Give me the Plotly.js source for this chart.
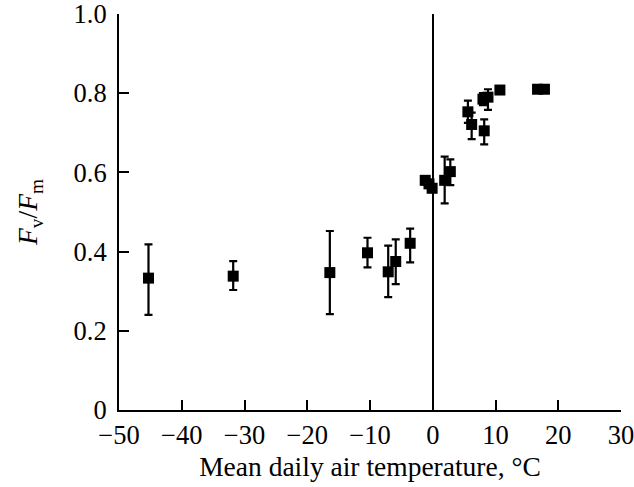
<!DOCTYPE html>
<html>
<head>
<meta charset="utf-8">
<script src="https://cdn.plot.ly/plotly-3.0.1.min.js"></script>
<style>html,body{margin:0;padding:0;background:#fff;}#chart{width:634px;height:487px;}</style>
</head>
<body>
<div id="chart"></div>
<script>
// Mean daily air temperature, °C
var temperature = [-45.3, -31.8, -16.4, -10.4, -7.1, -5.9, -3.6, -1.2, -0.6, -0.1, 1.9, 2.8, 5.6, 6.2, 8.2, 8.0, 8.8, 10.7, 16.7, 17.8];
// Fv/Fm
var fvfm = [0.333, 0.338, 0.347, 0.397, 0.349, 0.375, 0.421, 0.580, 0.571, 0.560, 0.580, 0.602, 0.753, 0.721, 0.705, 0.785, 0.790, 0.808, 0.810, 0.810];
var errUp = [0.085, 0.038, 0.105, 0.038, 0.066, 0.056, 0.037, 0.010, 0.010, 0.010, 0.060, 0.031, 0.028, 0.030, 0.029, 0.015, 0.020, 0, 0, 0];
var errDown = [0.093, 0.035, 0.105, 0.037, 0.064, 0.057, 0.048, 0.010, 0.010, 0.010, 0.058, 0.034, 0.028, 0.037, 0.034, 0.015, 0.032, 0, 0, 0];
var xTicks = [-50, -40, -30, -20, -10, 0, 10, 20, 30];
var yTickVals = [0, 0.2, 0.4, 0.6, 0.8, 1.0];
var yTickText = ['0', '0.2', '0.4', '0.6', '0.8', '1.0'];

var family = 'Liberation Serif, Times New Roman, serif';
var tickFont = {family: family, size: 26.5, color: '#000'};
var titleFont = {family: family, size: 27.5, color: '#000'};

var trace = {
  x: temperature,
  y: fvfm,
  type: 'scatter',
  mode: 'markers',
  marker: {symbol: 'square', size: 11, color: '#000'},
  error_y: {type: 'data', symmetric: false, array: errUp, arrayminus: errDown, color: '#000', thickness: 2.2, width: 4},
  showlegend: false,
  hoverinfo: 'skip'
};

var layout = {
  width: 634, height: 487,
  margin: {l: 119, r: 13, t: 14, b: 77},
  paper_bgcolor: '#fff', plot_bgcolor: '#fff',
  font: tickFont,
  xaxis: {
    range: [-50, 30], tickvals: xTicks, ticks: 'inside', ticklen: 10, tickwidth: 2, tickcolor: '#000',
    showline: true, linewidth: 2, linecolor: '#000', showgrid: false,
    zeroline: true, zerolinewidth: 2, zerolinecolor: '#000',
    tickfont: tickFont, ticklabeloverflow: 'allow',
    title: {text: 'Mean daily air temperature, °C', font: titleFont, standoff: 8}
  },
  yaxis: {
    range: [0, 1.0], tickvals: yTickVals, ticktext: yTickText, ticks: 'inside', ticklen: 10, tickwidth: 2, tickcolor: '#000',
    showline: true, linewidth: 2, linecolor: '#000', showgrid: false, zeroline: false,
    tickfont: tickFont, ticklabelstandoff: 5, ticklabeloverflow: 'allow',
    title: {text: '<i>F</i><sub>v</sub>/<i>F</i><sub>m</sub>', font: titleFont, standoff: 28}
  }
};

Plotly.newPlot('chart', [trace], layout, {staticPlot: true, displayModeBar: false});
</script>
</body>
</html>
